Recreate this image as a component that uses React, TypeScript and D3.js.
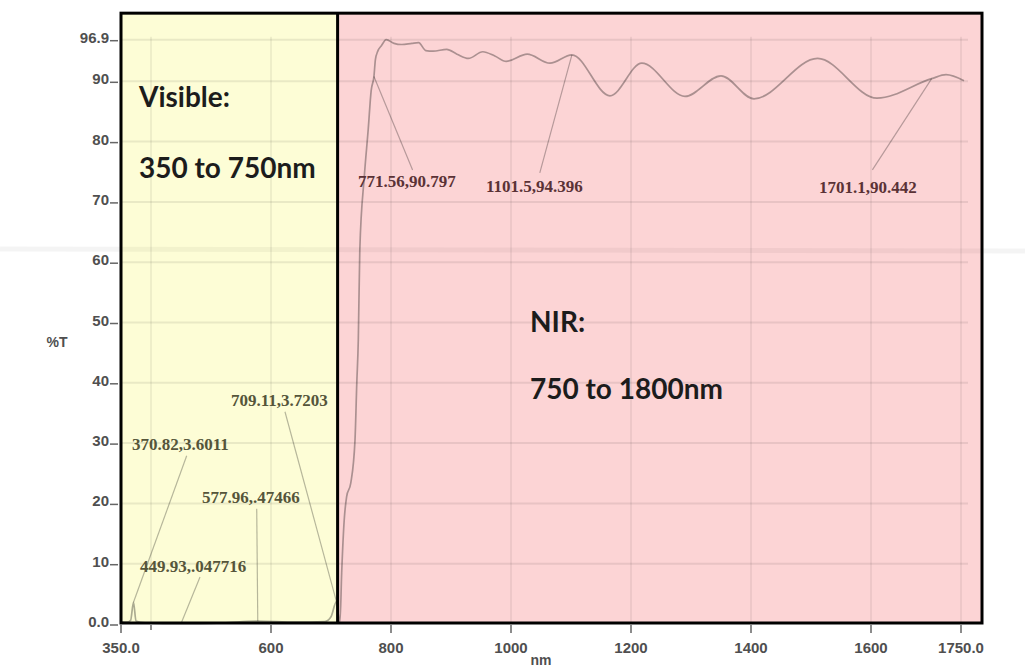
import React from 'react';
import * as d3 from 'd3';

const W = 1025;
const H = 668;

// spectrum: wavelength (nm) and transmission (%T)
const wavelength = [
  350, 360, 366, 370.82, 375, 390, 449.93, 520, 577.96, 640, 690, 700, 709.11, 713, 715,
  717.8, 722, 726, 733, 740, 743, 745.5, 748, 755.5, 762, 767, 771.56, 774, 778, 784, 792,
  805, 818, 835, 846, 858, 870, 893, 910, 929, 953, 973, 992, 1027, 1065, 1101.5,
  1165, 1218, 1290, 1350, 1405, 1511, 1610, 1701.1, 1725, 1755,
];
const transmission = [
  0.4, 0.3, 0.6, 3.6011, 0.5, 0.2, 0.047716, 0.2, 0.47466, 0.3, 0.4, 1.2, 3.7203, 1.0, 0.4,
  8.5, 17.2, 21.1, 23.4, 30.5, 40, 47.1, 62, 74.2, 82, 88.5, 90.797, 93.6, 95.0, 95.9, 96.9,
  96.3, 96.1, 96.3, 96.4, 95.1, 95.0, 95.3, 94.5, 93.8, 94.9, 94.2, 93.3, 94.5, 93.0, 94.396,
  87.6, 93.0, 87.5, 90.9, 87.1, 93.8, 87.2, 90.442, 91.1, 90.1,
];

const xTicks = [350, 600, 800, 1000, 1200, 1400, 1600, 1750];
const xTickLabels = ['350.0', '600', '800', '1000', '1200', '1400', '1600', '1750.0'];
const xMinorTicks = [400];
const xGrid = [400, 600, 800, 1000, 1200, 1400, 1600, 1750];
const yTicks = [0, 10, 20, 30, 40, 50, 60, 70, 80, 90, 96.9];
const yTickLabels = ['0.0', '10', '20', '30', '40', '50', '60', '70', '80', '90', '96.9'];

// peak picks printed on the chart
const pickNm = [370.82, 449.93, 577.96, 709.11, 771.56, 1101.5, 1701.1];
const pickT = [3.6011, 0.047716, 0.47466, 3.7203, 90.797, 94.396, 90.442];
const pickText = [
  '370.82,3.6011', '449.93,.047716', '577.96,.47466', '709.11,3.7203',
  '771.56,90.797', '1101.5,94.396', '1701.1,90.442',
];

// shaded bands
const bandEdges = [350, 711, 1785];
const bandNames = ['Visible:', 'NIR:'];
const bandRanges = ['350 to 750nm', '750 to 1800nm'];

// layout (data units), kept apart from the data
const frameTop = 101.3;
const pickLabelAt = [[368.3, 28.9], [381.7, 8.6], [485, 20.1], [533.3, 36.2], [745, 72.5], [958.3, 71.6], [1513.3, 71.5]];
const pickLeaderFrom = [[459.5, 27.9], [481.7, 7.8], [576.2, 19.1], [623.3, 35.2], [836, 75.3], [1048, 74.8], [1602.3, 75.3]];
const bandTitleAt = [[380, 85.7, 74.0], [1031.7, 48.4, 37.3]];
const bandFill = ['#fdfdd6', '#fcd4d5'];

export default function App() {
  const x = d3.scaleLinear().domain([350, 1750]).range([121, 961]);
  const y = d3.scaleLinear().domain([0, 96.9]).range([624, 39.7]);

  const pts = wavelength.map((w, i) => [w, transmission[i]] as [number, number]);
  const line = d3.line<[number, number]>()
    .x(d => x(d[0]))
    .y(d => y(d[1]))
    .curve(d3.curveMonotoneX);

  const fx0 = x(bandEdges[0]);
  const fx1 = x(bandEdges[2]);
  const fy0 = y(frameTop);
  const fy1 = y(0) - 1;
  const tickFont = '"Liberation Sans", Arial, sans-serif';

  return (
    <div style={{position: 'absolute', left: 0, top: 0}}>
      <svg width={W} height={H} viewBox={`0 0 ${W} ${H}`} style={{display: 'block', background: '#fff'}}>
        {/* bands */}
        {bandNames.map((n, i) => (
          <rect key={n} x={x(bandEdges[i])} y={fy0} width={x(bandEdges[i + 1]) - x(bandEdges[i])}
            height={fy1 - fy0} fill={bandFill[i]} />
        ))}

        {/* scan fold */}
        <path d={`M0,249 C300,252 600,248 ${W},251`} fill="none" stroke="#000" strokeOpacity={0.045} strokeWidth={5} />

        {/* grid */}
        {yTicks.slice(1).map(t => (
          <line key={'gy' + t} x1={fx0} x2={fx1 - 14} y1={y(t)} y2={y(t)} stroke="#000" strokeOpacity={0.08} strokeWidth={2} />
        ))}
        {xGrid.map(t => (
          <line key={'gx' + t} x1={x(t)} x2={x(t)} y1={y(96.9) - 3} y2={fy1} stroke="#000" strokeOpacity={0.06} strokeWidth={2} />
        ))}

        {/* spectrum */}
        <path d={line(pts) || ''} fill="none" stroke="#000" strokeOpacity={0.32} strokeWidth={1.7} strokeLinejoin="round" />

        {/* peak picks */}
        {pickNm.map((w, i) => (
          <line key={'ld' + i} x1={x(pickLeaderFrom[i][0])} y1={y(pickLeaderFrom[i][1])} x2={x(w)} y2={y(pickT[i])}
            stroke="#000" strokeOpacity={0.28} strokeWidth={1.2} />
        ))}
        {pickText.map((t, i) => (
          <text key={'pt' + i} x={x(pickLabelAt[i][0])} y={y(pickLabelAt[i][1])}
            fontFamily='"Liberation Serif", "Times New Roman", serif' fontSize={17} fontWeight="bold"
            fill={pickNm[i] < bandEdges[1] ? '#55553a' : '#5a3236'}>{t}</text>
        ))}

        {/* band titles */}
        {bandNames.map((n, i) => (
          <g key={'bt' + i} fontFamily="Lato, 'Open Sans', sans-serif" fontWeight="bold" fontSize={28} fill="#1c1c1c">
            <text x={x(bandTitleAt[i][0])} y={y(bandTitleAt[i][1])}>{n}</text>
            <text x={x(bandTitleAt[i][0])} y={y(bandTitleAt[i][2])}>{bandRanges[i]}</text>
          </g>
        ))}

        {/* frame */}
        <rect x={fx0} y={fy0} width={fx1 - fx0} height={fy1 - fy0} fill="none" stroke="#000" strokeWidth={3} />
        <line x1={x(bandEdges[1])} x2={x(bandEdges[1])} y1={fy0} y2={fy1} stroke="#000" strokeWidth={3} />

        {/* y axis */}
        {yTicks.map((t, i) => (
          <g key={'yt' + t}>
            <line x1={fx0 - 11} x2={fx0 - 3} y1={y(t) + 1} y2={y(t) + 1} stroke="#666" strokeWidth={1.5} />
            <text x={fx0 - 12} y={y(t) + 3} textAnchor="end" fontFamily={tickFont} fontWeight="bold"
              fontSize={15} fill="#4f4f4f">{yTickLabels[i]}</text>
          </g>
        ))}
        <text x={57} y={347} textAnchor="middle" fontFamily={tickFont} fontWeight="bold" fontSize={14} fill="#4f4f4f">%T</text>

        {/* x axis */}
        {xTicks.map((t, i) => (
          <g key={'xt' + t}>
            <line x1={x(t)} x2={x(t)} y1={fy1 + 2} y2={fy1 + 10} stroke="#666" strokeWidth={1.5} />
            <text x={x(t)} y={653} textAnchor="middle" fontFamily={tickFont} fontWeight="bold"
              fontSize={15} fill="#4f4f4f">{xTickLabels[i]}</text>
          </g>
        ))}
        {xMinorTicks.map(t => (
          <line key={'xm' + t} x1={x(t)} x2={x(t)} y1={fy1 + 2} y2={fy1 + 7} stroke="#666" strokeWidth={1.5} />
        ))}
        <text x={(x(350) + x(1750)) / 2} y={665} textAnchor="middle" fontFamily={tickFont} fontWeight="bold"
          fontSize={14} fill="#4f4f4f">nm</text>
      </svg>
    </div>
  );
}
